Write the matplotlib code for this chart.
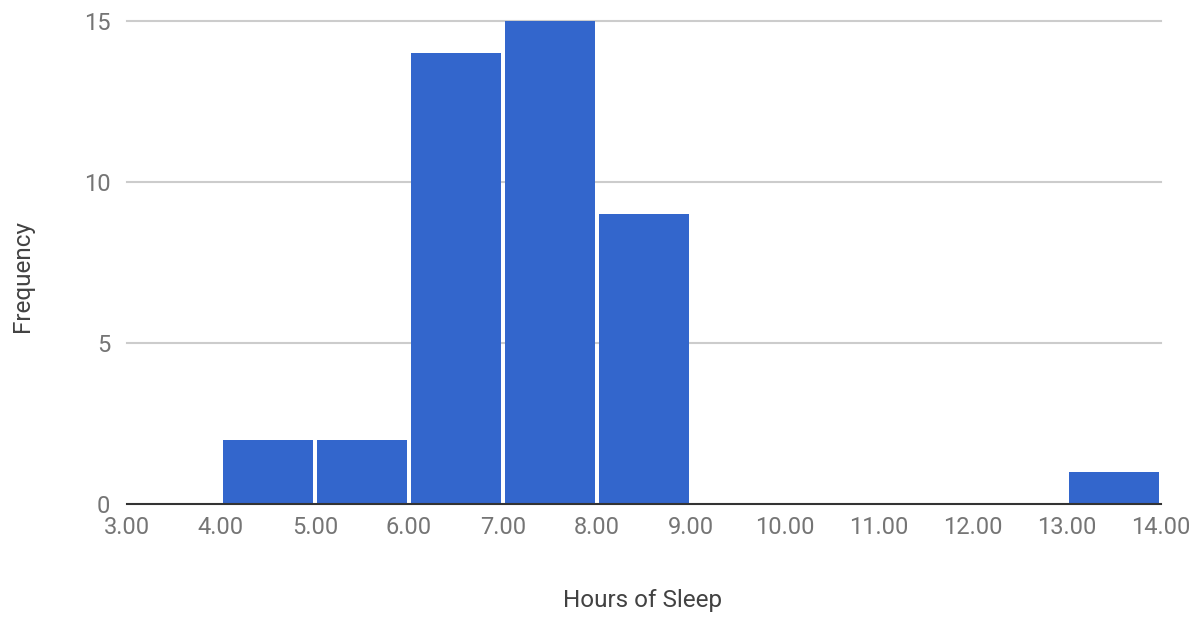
import matplotlib
matplotlib.use("Agg")
import matplotlib.pyplot as plt
import numpy as np

plt.rcParams['font.family'] = ['Roboto', 'DejaVu Sans']

# Data
bin_edges_left = [4, 5, 6, 7, 8, 13]
counts = [2, 2, 14, 15, 9, 1]
x_ticks = [3, 4, 5, 6, 7, 8, 9, 10, 11, 12, 13, 14]
y_ticks = [0, 5, 10, 15]
x_label = "Hours of Sleep"
y_label = "Frequency"

bar_color = "#3366CC"
tick_color = "#757575"
label_color = "#424242"

fig = plt.figure(figsize=(12.03, 6.19), dpi=100)
ax = fig.add_axes([127/1203, 1-504/619, (1161-127)/1203, (504-21)/619])

gap = 0.05
ax.bar(np.array(bin_edges_left) + gap/2, counts, width=1-gap, align='edge',
       color=bar_color, zorder=2, linewidth=0)

ax.set_xlim(3, 14)
ax.set_ylim(0, 15)
ax.set_xticks(x_ticks)
ax.set_xticklabels([f"{v:.2f}" for v in x_ticks])
ax.set_yticks(y_ticks)
ax.set_yticklabels([str(v) for v in y_ticks])

for v in y_ticks[1:]:
    ax.axhline(v, color="#cccccc", linewidth=1.5, zorder=1, clip_on=False)
ax.axhline(0, color="#333333", linewidth=1.5, zorder=3, clip_on=False)

for s in ax.spines.values():
    s.set_visible(False)
ax.tick_params(axis='both', length=0, labelsize=17, colors=tick_color)
ax.tick_params(axis='y', pad=12)
ax.tick_params(axis='x', pad=9)

fig.text(643/1203, 1-601/619, x_label, ha='center', va='center', fontsize=17.5, color=label_color)
fig.text(22/1203, 1-276/619, y_label, ha='center', va='center', rotation=90, fontsize=17.5, color=label_color)

fig.savefig("out.png", dpi=100, facecolor='white')
